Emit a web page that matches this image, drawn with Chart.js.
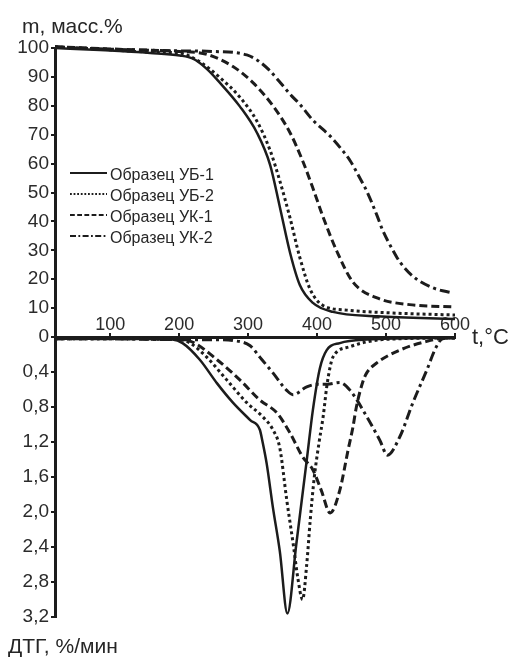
<!DOCTYPE html>
<html lang="ru">
<head>
<meta charset="utf-8">
<title>ТГ / ДТГ</title>
<script src="https://cdn.jsdelivr.net/npm/chart.js@4.4.1/dist/chart.umd.min.js"></script>
<style>
    html, body { margin: 0; padding: 0; background: #fff; }
    #wrap {
        position: relative;
        width: 513px;
        height: 662px;
        font-family: "Liberation Sans", Arial, sans-serif;
        color: #262626;
    }
    #wrap canvas { position: absolute; left: 0; top: 0; }
    .lbl { position: absolute; white-space: nowrap; line-height: 1; }
    #legend { position: absolute; left: 70px; top: 164px; font-size: 16px; }
    #legend .row { display: flex; align-items: center; height: 21px; }
    #legend svg { margin-right: 3px; }
</style>
</head>
<body>
<div id="wrap">
    <canvas id="tgChart" width="513" height="662"></canvas>
    <div class="lbl" style="left:22px; top:15px; font-size:21px;">m, масс.%</div>
    <div class="lbl" style="left:8px; top:635px; font-size:21px;">ДТГ, %/мин</div>
    <div class="lbl" style="left:472px; top:326px; font-size:22px;">t,°C</div>
    <div id="legend"></div>
</div>
<script>
// series names and line styles
const seriesNames = ['Образец УБ-1', 'Образец УБ-2', 'Образец УК-1', 'Образец УК-2'];
const seriesDash = [[], [3, 3], [8, 4], [10, 4, 3, 4]];
const seriesWidth = [2.5, 3, 3, 3];

// axis ticks
const tempTicks = [100, 200, 300, 400, 500, 600];
const tgTicks = [0, 10, 20, 30, 40, 50, 60, 70, 80, 90, 100];
const dtgTicks = [0.4, 0.8, 1.2, 1.6, 2.0, 2.4, 2.8, 3.2];
const dtgTickLabels = ['0,4', '0,8', '1,2', '1,6', '2,0', '2,4', '2,8', '3,2'];

// TG curves, m (mass %) vs t (°C)
const ub1TgT = [20, 85, 158, 201, 220, 240, 259, 288, 313, 332, 346, 361, 375, 394, 423, 487, 600];
const ub1TgM = [100, 99.3, 98.3, 97.4, 96.3, 92.8, 88, 79.8, 70.6, 59.5, 45, 29, 18, 11.8, 8.7, 7.2, 6.2];

const ub2TgT = [20, 85, 158, 201, 230, 259, 288, 313, 332, 346, 361, 375, 390, 408, 443, 510, 600];
const ub2TgM = [100.4, 99.6, 98.6, 98.2, 95.2, 89.8, 83, 74.6, 64.5, 54, 41, 27.5, 16.5, 11, 9.3, 8.3, 7.6];

const uk1TgT = [20, 120, 200, 240, 278, 307, 336, 361, 379, 394, 408, 429, 452, 487, 534, 600];
const uk1TgM = [100.4, 99.5, 98.8, 97.8, 93.6, 88, 80, 70.6, 61, 51.5, 42, 29.5, 19, 13.5, 11.2, 10.4];

const uk2TgT = [20, 100, 200, 250, 298, 315, 330, 345, 361, 375, 394, 419, 437, 448, 462, 472, 487, 495, 510, 520, 539, 568, 597];
const uk2TgM = [100.4, 99.6, 99, 98.8, 97.6, 95.5, 92.5, 88.5, 84, 80.5, 75, 69.5, 64.5, 61, 55, 50.5, 42, 37, 30, 26, 21, 17, 15.2];

// DTG curves, %/min vs t (°C)
const ub1DtgT = [20, 100, 190, 205, 230, 255, 278, 303, 317, 321, 327, 336, 346, 357, 370, 385, 394, 404, 414, 433, 472, 600];
const ub1DtgV = [0.02, 0.02, 0.03, 0.07, 0.26, 0.53, 0.75, 0.95, 1.06, 1.2, 1.45, 1.95, 2.45, 3.16, 2.36, 1.41, 0.83, 0.36, 0.15, 0.07, 0.03, 0.01];

const ub2DtgT = [20, 100, 200, 216, 240, 269, 298, 321, 336, 346, 356, 366, 372, 379, 385, 390, 396, 403, 409, 414, 419, 423, 448, 495, 600];
const ub2DtgV = [0.02, 0.02, 0.03, 0.07, 0.23, 0.49, 0.75, 0.91, 1.06, 1.27, 1.86, 2.4, 2.75, 3.0, 2.6, 2.1, 1.6, 1.2, 0.9, 0.57, 0.34, 0.23, 0.11, 0.03, 0.01];

const uk1DtgT = [20, 100, 200, 220, 255, 288, 317, 342, 361, 379, 394, 406, 419, 433, 445, 452, 457, 466, 472, 486, 520, 559, 590, 600];
const uk1DtgV = [0.02, 0.02, 0.03, 0.06, 0.26, 0.49, 0.72, 0.87, 1.1, 1.37, 1.52, 1.75, 2.01, 1.75, 1.29, 1.03, 0.8, 0.52, 0.41, 0.3, 0.15, 0.05, 0.01, 0.01];

const uk2DtgT = [20, 100, 200, 260, 278, 303, 317, 336, 356, 365, 385, 400, 415, 433, 448, 472, 491, 502, 520, 539, 559, 573, 582, 600];
const uk2DtgV = [0.02, 0.02, 0.03, 0.03, 0.04, 0.1, 0.23, 0.41, 0.61, 0.66, 0.57, 0.54, 0.54, 0.52, 0.61, 0.91, 1.18, 1.35, 1.14, 0.75, 0.38, 0.11, 0.02, 0.01];

const tgSeries = [[ub1TgT, ub1TgM], [ub2TgT, ub2TgM], [uk1TgT, uk1TgM], [uk2TgT, uk2TgM]];
const dtgSeries = [[ub1DtgT, ub1DtgV], [ub2DtgT, ub2DtgV], [uk1DtgT, uk1DtgV], [uk2DtgT, uk2DtgV]];

const INK = '#1c1c1c';
const TEXT = '#2b2b2b';
const FONT = '"Liberation Sans", Arial, sans-serif';

function toPoints(xs, ys) {
    return xs.map((x, i) => ({ x: x, y: ys[i] }));
}

function makeDataset(pair, idx, axisId) {
    return {
        label: seriesNames[idx],
        data: toPoints(pair[0], pair[1]),
        yAxisID: axisId,
        borderColor: INK,
        borderWidth: seriesWidth[idx],
        borderDash: seriesDash[idx],
        borderCapStyle: 'butt',
        pointRadius: 0,
        fill: false,
        cubicInterpolationMode: 'monotone',
        clip: false
    };
}

const datasets = [];
tgSeries.forEach((p, i) => datasets.push(makeDataset(p, i, 'yTg')));
dtgSeries.forEach((p, i) => datasets.push(makeDataset(p, i, 'yDtg')));

// html legend, samples use the same dash patterns
const legendEl = document.getElementById('legend');
seriesNames.forEach((name, i) => {
    const row = document.createElement('div');
    row.className = 'row';
    const dash = seriesDash[i].length ? seriesDash[i].map(d => d * 0.6).join(' ') : 'none';
    row.innerHTML =
        '<svg width="37" height="21"><line x1="0" y1="9" x2="37" y2="9" stroke="' + INK +
        '" stroke-width="1.8" stroke-dasharray="' + dash + '"/></svg><span>' + name + '</span>';
    legendEl.appendChild(row);
});

const ctx = document.getElementById('tgChart').getContext('2d');
new Chart(ctx, {
    type: 'line',
    data: { datasets: datasets },
    options: {
        responsive: false,
        animation: false,
        layout: { padding: { left: 0, right: 58, top: 48, bottom: 45 } },
        plugins: {
            legend: { display: false },
            tooltip: { enabled: false }
        },
        scales: {
            x: {
                type: 'linear',
                min: 20,
                max: 600,
                position: { yTg: 0 },
                afterBuildTicks: s => { s.ticks = tempTicks.map(v => ({ value: v })); },
                grid: { drawOnChartArea: false, tickLength: -6, color: INK, lineWidth: 2 },
                border: { color: INK, width: 3 },
                ticks: {
                    padding: -17,
                    color: TEXT,
                    font: { family: FONT, size: 18 },
                    maxRotation: 0,
                    autoSkip: false
                }
            },
            // bottom panel listed first so that the stack puts it below
            yDtg: {
                type: 'linear',
                position: 'left',
                stack: 'panels',
                stackWeight: 280,
                reverse: true,
                min: 0,
                max: 3.2,
                afterBuildTicks: s => { s.ticks = dtgTicks.map(v => ({ value: v })); },
                afterFit: s => { s.width = 55; },
                grid: { drawOnChartArea: false, tickLength: 4, color: INK, lineWidth: 2 },
                border: { color: INK, width: 3 },
                ticks: {
                    padding: 2,
                    autoSkip: false,
                    color: TEXT,
                    font: { family: FONT, size: 19 },
                    callback: (v, i) => dtgTickLabels[i]
                }
            },
            yTg: {
                type: 'linear',
                position: 'left',
                stack: 'panels',
                stackWeight: 289,
                min: 0,
                max: 100,
                afterBuildTicks: s => { s.ticks = tgTicks.map(v => ({ value: v })); },
                afterFit: s => { s.width = 55; },
                grid: { drawOnChartArea: false, tickLength: 4, color: INK, lineWidth: 2 },
                border: { color: INK, width: 3 },
                ticks: {
                    padding: 2,
                    autoSkip: false,
                    color: TEXT,
                    font: { family: FONT, size: 19 },
                    callback: v => String(v)
                }
            }
        }
    }
});
</script>
</body>
</html>
